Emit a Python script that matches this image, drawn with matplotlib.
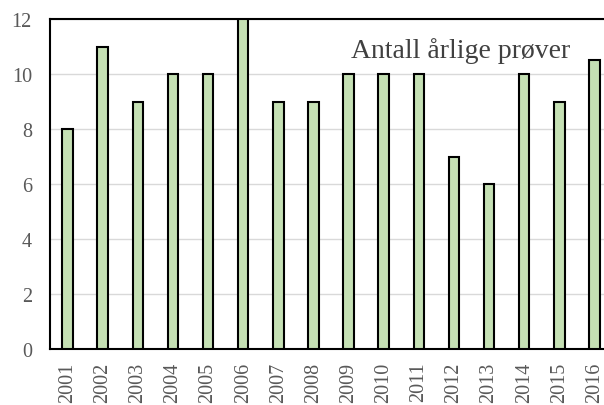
import matplotlib.pyplot as plt
import numpy as np

years = ['2001', '2002', '2003', '2004', '2005', '2006', '2007', '2008',
         '2009', '2010', '2011', '2012', '2013', '2014', '2015', '2016']
samples = [8, 11, 9, 10, 10, 12, 9, 9, 10, 10, 10, 7, 6, 10, 9, 10.5]

plt.rcParams['font.family'] = ['Liberation Serif', 'DejaVu Serif']

fig = plt.figure(figsize=(6.04, 4.06), dpi=100)
ax = fig.add_axes([50 / 604, 1 - 350 / 406, 562 / 604, 330 / 406])

x = np.arange(len(years))
ax.bar(x, samples, width=0.3, color='#c5e0b4', edgecolor='black', linewidth=1.5, zorder=3)

ax.set_xlim(-0.5, len(years) - 0.5)
ax.set_ylim(0, 12)
ax.set_yticks(range(0, 13, 2))
ax.set_xticks(x)
ax.set_xticklabels(years, rotation=90)
ax.tick_params(length=0, labelsize=14.5, colors='#595959')
ax.tick_params(axis='y', pad=13)
ax.tick_params(axis='x', pad=9)
ax.grid(axis='y', color='#d9d9d9', linewidth=1, zorder=0)
for s in ax.spines.values():
    s.set_linewidth(1.5)
    s.set_color('black')

ax.text(0.926, 0.905, 'Antall årlige prøver', transform=ax.transAxes,
        ha='right', va='center', fontsize=20, color='#404040')

fig.savefig('out.png', dpi=100)
